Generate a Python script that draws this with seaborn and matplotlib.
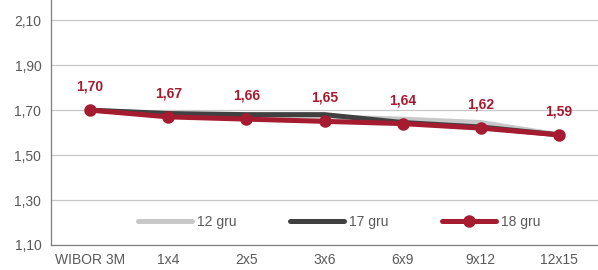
import pandas as pd
import numpy as np
import matplotlib
matplotlib.use("Agg")
import matplotlib.pyplot as plt
import seaborn as sns
from matplotlib.ticker import FuncFormatter, FixedLocator

# data
tenors = ["WIBOR 3M", "1x4", "2x5", "3x6", "6x9", "9x12", "12x15"]
dec12 = [1.70, 1.68, 1.675, 1.67, 1.66, 1.645, 1.59]
dec17 = [1.70, 1.685, 1.68, 1.68, 1.645, 1.625, 1.59]
dec18 = [1.70, 1.67, 1.66, 1.65, 1.64, 1.62, 1.59]
series_names = ["12 gru", "17 gru", "18 gru"]
y_ticks = [1.10, 1.30, 1.50, 1.70, 1.90, 2.10]

df = pd.DataFrame({
    "tenor": tenors * 3,
    "rate": dec12 + dec17 + dec18,
    "series": np.repeat(series_names, len(tenors)),
})

sns.set_style("white")
plt.rcParams["font.family"] = ["Liberation Sans", "DejaVu Sans"]

colors = {"12 gru": "#c8c8c8", "17 gru": "#404040", "18 gru": "#a51c30"}

fig = plt.figure(figsize=(5.98, 2.70), dpi=100)
ax = fig.add_axes([51 / 598, 25 / 270, 547 / 598, 245 / 270])

for name in series_names:
    sub = df[df["series"] == name]
    is_main = name == "18 gru"
    sns.lineplot(data=sub, x="tenor", y="rate", ax=ax, color=colors[name],
                 lw=3.6, marker="o" if is_main else None, markersize=9,
                 markeredgewidth=0, label=name, sort=False, zorder=3 if is_main else 2)

# value labels for the latest series
for i, v in enumerate(dec18):
    ax.annotate(f"{v:.2f}".replace(".", ","), (i, v), xytext=(0, 17),
                textcoords="offset points", ha="center", va="center",
                color="#a51c30", fontsize=10, fontweight="bold")

ax.set_xlim(-0.5, len(tenors) - 0.5)
ax.set_ylim(1.10, 2.19)
ax.yaxis.set_major_locator(FixedLocator(y_ticks))
ax.yaxis.set_major_formatter(FuncFormatter(lambda v, p: f"{v:.2f}".replace(".", ",")))
ax.set_xticks(range(len(tenors)))
ax.set_xticklabels(tenors)
ax.set_xticks(np.arange(0.5, len(tenors) - 0.5, 1), minor=True)
ax.tick_params(axis="x", which="major", length=0, pad=6, labelsize=10, labelcolor="#595959")
ax.tick_params(axis="x", which="minor", length=4, width=0.8, color="#7f7f7f", direction="out")
ax.tick_params(axis="y", length=4, width=0.8, color="#7f7f7f", direction="out",
               labelsize=10, labelcolor="#595959", pad=3)
ax.set_xlabel("")
ax.set_ylabel("")

ax.grid(axis="y", color="#c8c8c8", lw=0.9)
ax.set_axisbelow(True)
for side in ["top", "right"]:
    ax.spines[side].set_visible(False)
for side in ["left", "bottom"]:
    ax.spines[side].set_color("#7f7f7f")
    ax.spines[side].set_linewidth(0.9)

ax.legend(loc="center", bbox_to_anchor=(0.527, 0.094), ncol=3, frameon=False,
          fontsize=10, handlelength=3.9, columnspacing=3.8, handletextpad=0.4,
          labelcolor="#595959")

fig.savefig("out.png", dpi=100)
